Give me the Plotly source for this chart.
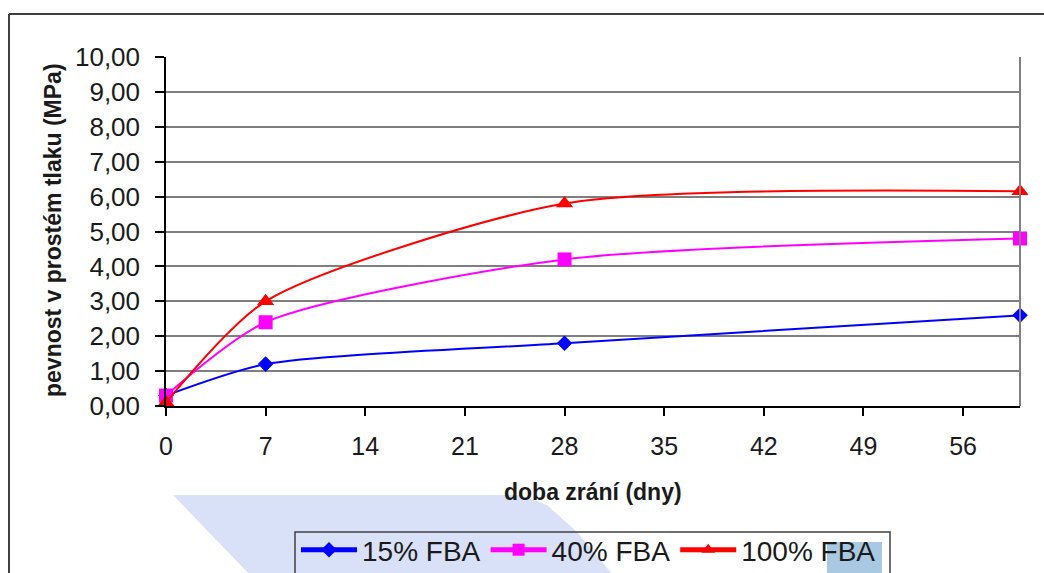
import plotly.graph_objects as go

# Strength development over curing time
days = [0, 7, 28, 60]
fba_15 = [0.30, 1.20, 1.80, 2.60]
fba_40 = [0.30, 2.40, 4.20, 4.80]
fba_100 = [0.10, 3.00, 5.80, 6.15]

series_names = ["15% FBA", "40% FBA", "100% FBA"]
x_ticks = [0, 7, 14, 21, 28, 35, 42, 49, 56]
y_ticks = [0, 1, 2, 3, 4, 5, 6, 7, 8, 9, 10]

W, H = 1044, 573
L, R, T, B = 166, 24, 57, 167
PW, PH = W - L - R, H - T - B


def px(x, y):
    """Pixel position -> paper coordinates."""
    return (x - L) / PW, (H - B - y) / PH


FONT = "Liberation Sans, Arial, sans-serif"

fig = go.Figure()
styles = [
    ("#0000ff", "diamond", 12),
    ("#ff00ff", "square", 14),
    ("#ff0000", "triangle-up", 15),
]
for name, ys, (col, sym, sz) in zip(series_names, [fba_15, fba_40, fba_100], styles):
    fig.add_trace(go.Scatter(
        x=days, y=ys, name=name, mode="lines+markers",
        line=dict(color=col, width=2, shape="spline", smoothing=0.7),
        marker=dict(color=col, symbol=sym, size=sz, line=dict(width=0)),
        cliponaxis=False,
    ))

shapes = []
# faint blue band behind the lower area
poly = [(173, 495), (520, 495), (547, 505), (577, 532), (613, 575), (250, 575)]
pts = [px(a, b) for a, b in poly]
path = "M " + " L ".join(f"{a:.4f},{b:.4f}" for a, b in pts) + " Z"
shapes.append(dict(type="path", path=path, xref="paper", yref="paper",
                   fillcolor="#d9e1f8", line=dict(width=0), layer="below"))
# highlight behind the last legend word
x0, y0 = px(827, 575)
x1, y1 = px(882, 542)
shapes.append(dict(type="rect", xref="paper", yref="paper", x0=x0, y0=y0, x1=x1, y1=y1,
                   fillcolor="#a9c8e2", line=dict(width=0), layer="below"))
# legend frame
lx0, ly0 = px(295, 585)
lx1, ly1 = px(890, 532)
shapes.append(dict(type="rect", xref="paper", yref="paper", x0=lx0, y0=ly0, x1=lx1, y1=ly1,
                   fillcolor="rgba(0,0,0,0)", line=dict(color="#404040", width=1.5)))
# outer chart frame (top and left edges)
fx0, fy0 = px(9, 575)
fx1, fy1 = px(1046, 14)
shapes.append(dict(type="line", xref="paper", yref="paper", x0=fx0, y0=fy1, x1=fx1, y1=fy1,
                   line=dict(color="#404040", width=2)))
shapes.append(dict(type="line", xref="paper", yref="paper", x0=fx0, y0=fy0, x1=fx0, y1=fy1,
                   line=dict(color="#404040", width=2)))
# right edge of plot area
shapes.append(dict(type="line", xref="paper", yref="paper", x0=1, y0=0, x1=1, y1=1,
                   line=dict(color="#808080", width=2)))

ax_title_x, ax_title_y = px(593, 492)
ay_title_x, ay_title_y = px(53, 230)

fig.update_layout(
    width=W, height=H,
    margin=dict(l=L, r=R, t=T, b=B, pad=0, autoexpand=False),
    paper_bgcolor="white", plot_bgcolor="white",
    separators=",.",
    showlegend=True,
    shapes=shapes,
    font=dict(family=FONT, color="#1a1a1a"),
    xaxis=dict(
        range=[0, 60], tickvals=x_ticks, ticks="outside", ticklen=8, tickwidth=1.5,
        tickcolor="#000000", showline=True, linecolor="#000000", linewidth=1.5,
        showgrid=False, zeroline=False, ticklabelstandoff=9,
        tickfont=dict(family=FONT, size=25, color="#1a1a1a"),
    ),
    yaxis=dict(
        range=[0, 10], tickvals=y_ticks, tickformat=".2f", ticks="outside", ticklen=9,
        tickwidth=1.5, tickcolor="#000000", showline=True, linecolor="#000000",
        linewidth=1.5, showgrid=True, gridcolor="#7f7f7f", gridwidth=1.5,
        zeroline=False, ticklabelstandoff=10,
        tickfont=dict(family=FONT, size=26, color="#1a1a1a"),
    ),
    legend=dict(
        orientation="h", x=px(296, 0)[0], y=px(0, 525)[1], xanchor="left", yanchor="top",
        font=dict(family=FONT, size=28, color="#1a1a1a"),
        bgcolor="rgba(0,0,0,0)", borderwidth=0,
        itemsizing="constant", tracegroupgap=0, itemwidth=56,
    ),
    annotations=[
        dict(text="<b>doba zrání (dny)</b>", xref="paper", yref="paper",
             x=ax_title_x, y=ax_title_y, showarrow=False, xanchor="center", yanchor="middle",
             font=dict(family=FONT, size=23, color="#1a1a1a")),
        dict(text="<b>pevnost v prostém tlaku (MPa)</b>", xref="paper", yref="paper",
             x=ay_title_x, y=ay_title_y, showarrow=False, textangle=-90,
             xanchor="center", yanchor="middle",
             font=dict(family=FONT, size=23, color="#1a1a1a")),
    ],
)

fig.write_html("out.html")
